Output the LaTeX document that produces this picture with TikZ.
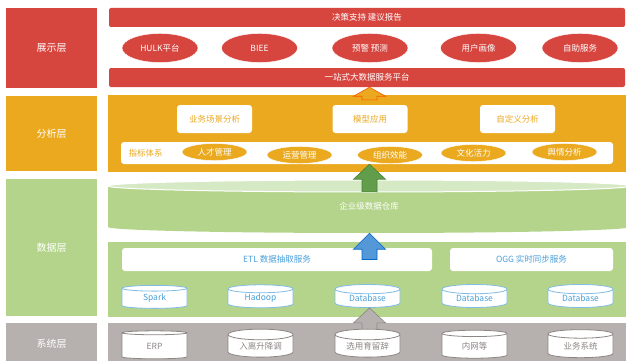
\documentclass[tikz,border=0pt]{standalone}
\usepackage{fontspec}
\newfontfamily\cjk{Noto Sans CJK SC}
\usetikzlibrary{shapes.geometric, calc}
\definecolor{showred}{HTML}{D7453F}
\definecolor{anaorg}{HTML}{EAA91F}
\definecolor{datgreen}{HTML}{B3D48A}
\definecolor{datlight}{HTML}{D6E9C5}
\definecolor{sysgray}{HTML}{B6B0AE}
\definecolor{datblue}{HTML}{4A9FD8}
\definecolor{systext}{HTML}{8C8684}

\begin{document}
\begin{tikzpicture}[
  x=1pt, y=-1pt,
  every node/.style={font=\cjk\fontsize{8.5}{10}\selectfont, inner sep=0pt},
  laybox/.style={fill=#1, text=white, minimum width=91, font=\cjk\fontsize{10}{12}\selectfont},
  bar/.style={fill=showred, rounded corners=2, text=white, minimum width=516, minimum height=19},
  redell/.style={ellipse, fill=showred, draw=white, text=white, minimum width=76, minimum height=29},
  whitebox/.style={fill=white, rounded corners=3, text=anaorg, minimum width=75, minimum height=28},
  orgell/.style={ellipse, fill=anaorg, draw=white, text=white, minimum width=65, minimum height=17},
  srvbox/.style={fill=white, rounded corners=3, text=datblue, minimum height=23},
  dbcyl/.style={cylinder, shape border rotate=90, aspect=0.25, draw=#1, fill=white,
    line width=0.8, minimum width=65, minimum height=23}
]
\useasboundingbox (0,0) rectangle (626,361);
\coordinate (axis) at (369.5,0);

% layer labels
\node[laybox=showred, minimum height=80] (lshow) at (51.5,48) {展示层};
\node[laybox=anaorg, minimum height=75] (lana) at (51.5,133.5) {分析层};
\node[laybox=datgreen, minimum height=137] (ldat) at (51.5,247.5) {数据层};
\node[laybox=sysgray, minimum height=42] (lsys) at (51.5,344) {系统层};

% presentation
\node[bar] (decbar) at (367,17.5) {决策支持 建议报告};
\foreach \x/\t [count=\i] in {160/HULK平台, 259.5/BIEE, 370/预警 预测, 478.5/用户画像, 580/自助服务}
  \node[redell] (show\i) at (\x,48) {\t};
\node[bar] (platbar) at (367,77.5) {一站式大数据服务平台};

% analysis
\node[fill=anaorg, minimum width=522, minimum height=77] (anbox) at (369,133.5) {};
\foreach \x/\t [count=\i] in {214.5/业务场景分析, 370/模型应用, 517.5/自定义分析}
  \node[whitebox] (ana\i) at (\x,119) {\t};
\node[fill=white, rounded corners=3, minimum width=492, minimum height=22] (idxband) at (367,153) {};
\node[text=anaorg] (idxlbl) at (145.5,153) {指标体系};
\foreach \x/\y/\t [count=\i] in {214.5/152/人才管理, 299.5/155/运营管理, 390/155/组织效能,
    473.5/153/文化活力, 564.5/152/舆情分析}
  \node[orgell] (idx\i) at (\x,\y) {\t};

% data warehouse drum
\fill[datgreen] (108,186) rectangle (630,227);
\fill[datgreen] (369,227) ellipse (261 and 6);
\filldraw[fill=datlight, draw=white, line width=1] (369,186) ellipse (261 and 6);
\node[text=white, minimum width=522, minimum height=53] (whouse) at (369,206.5) {企业级数据仓库};
\node[fill=datgreen, minimum width=522, minimum height=75] (dpanel) at (369,279.5) {};
\node[srvbox, minimum width=310] (etl) at (277,259.5) {ETL 数据抽取服务};
\node[srvbox, minimum width=163] (ogg) at (531.5,259.5) {OGG 实时同步服务};
\foreach \x/\t [count=\i] in {154.5/Spark, 260.5/Hadoop, 367.5/Database, 474.5/Database, 580.5/Database}
  \node[dbcyl=datblue!70, text=datblue] (db\i) at (\x,298.5) {\t};

% system
\node[fill=sysgray, minimum width=522, minimum height=45] (syspanel) at (369,345.5) {};

% block arrows: tip, base, head length, fill, border
\def\bigarrow#1#2#3#4#5{%
  \path (axis |- #1) coordinate (t) (axis |- #2) coordinate (b);
  \draw[fill=#4, draw=#5, line width=0.6]
    (t) -- ++(16,#3) -- ++(-8.5,0) -- ($(b)+(7.5,0)$) -- ($(b)+(-7.5,0)$)
    -- ($(t)+(-7.5,#3)$) -- ++(-8.5,0) -- cycle;
}
\coordinate (orgbase) at ($(anbox.north)+(0,5)$);
\coordinate (grnbase) at ($(whouse.north)+(0,12)$);
\coordinate (graybase) at ($(syspanel.north)+(0,12)$);
\bigarrow{platbar.south}{orgbase}{9}{anaorg}{orange!70!red}
\bigarrow{idxband.south}{grnbase}{15}{green!35!black!45!datgreen}{green!30!black!60!datgreen}
\bigarrow{whouse.south}{etl}{16}{cyan!60!blue!70!white}{blue!50!cyan!80!black}
\bigarrow{db3.south}{graybase}{15}{sysgray}{systext}

\foreach \x/\t [count=\i] in {154.5/ERP, 260.5/入离升降调, 367.5/选用育留辞, 474.5/内网等, 580.5/业务系统}
  \node[dbcyl=systext, text=systext, minimum height=28] (sys\i) at (\x,346) {\t};
\end{tikzpicture}
\end{document}
